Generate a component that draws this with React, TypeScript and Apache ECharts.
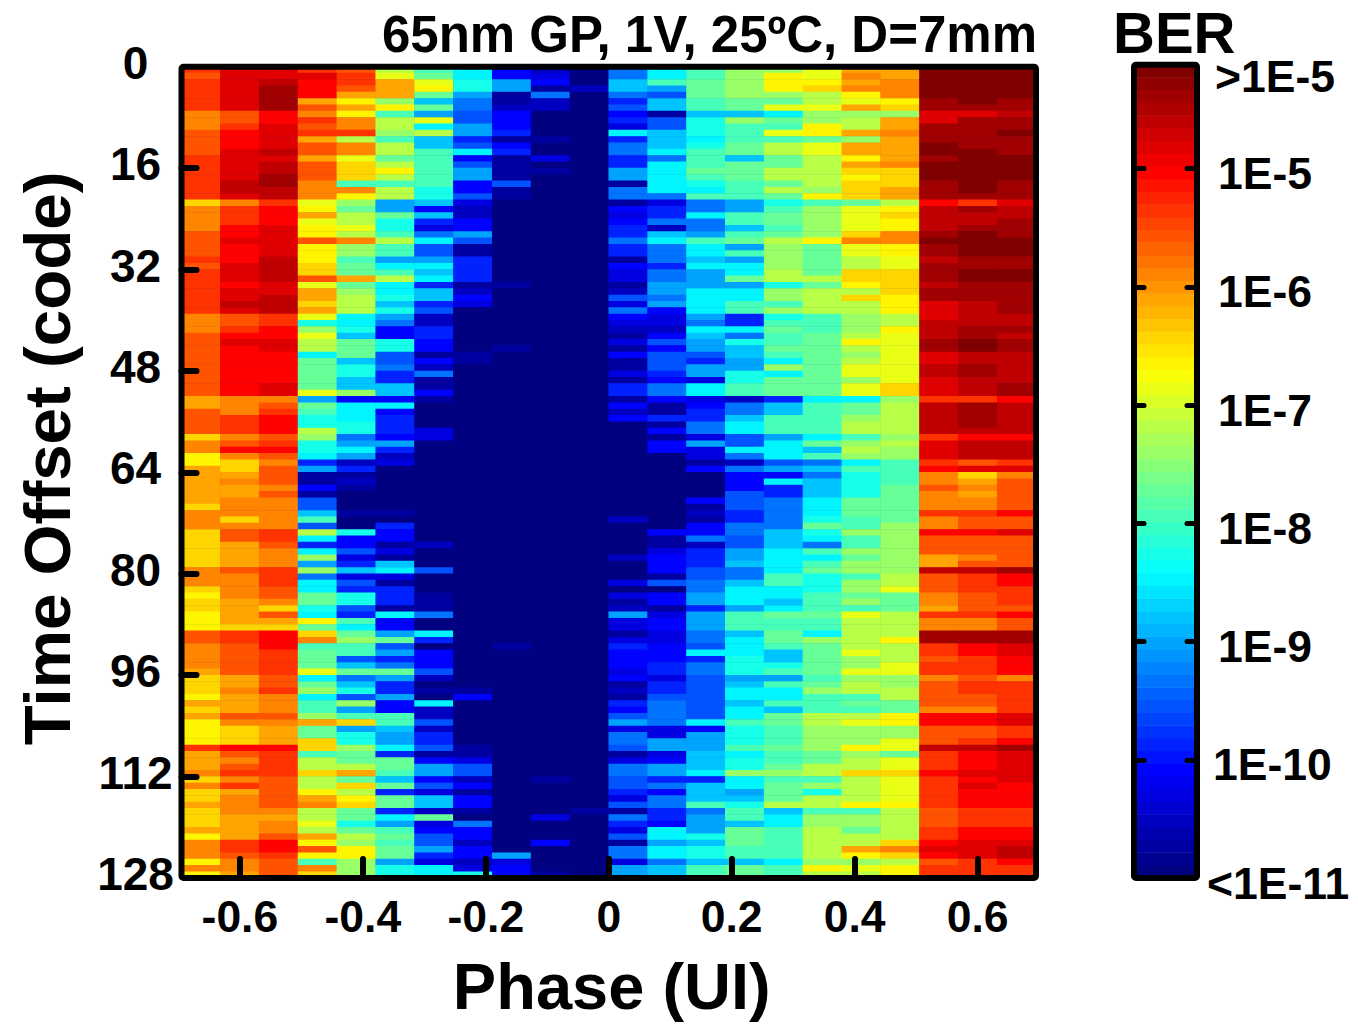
import React, { useEffect, useRef } from "react";
import * as echarts from "echarts";

// Each string is one phase column, top row (code 0) first; groups of 8 rows.
// One character = BER level (0-9a-r, low to high).
const col00 = "mlmmmmmk kkllllmm mmmmmikk kkllllml mmmmmmmk kkllllll lllljjll llikkhhj jjjjjikk kiiiiiik kkihiihh hllkkkkj iiihjijh hhhmjjjk ikiijiii jhkkkhkh";
const col01 = "oooooool lmnnnooo ooppokmm mnnonnno oonoopol lmnonnnn nnnnkkkm mmklnkii jkjjkkki klljjjjl kkkkjjjj immlllll jjkjjjlk iiinlklm kmjkkkjj jjmmlkkj";
const col02 = "oopqqqqn noooopop pqqppmnn nooooopp ppoopppm mnnoonnn nnooklmn nnlmnlkl llklkkkk kmmlkkkm mmllkilj innnmmmm llmkkklk jjjnmmmm lllllkjk klnnmlll";
const col03 = "monnnjlk mlmjlljl llkkkghj ghhlhhhi ilgjjijg begffadd dddg8dcb bfebba58 1141669c 6fa5ae8e 7aaddbah dikcdddg adeaccej ddiicffi ffhjkffg fjhlhcki";
const col04 = "lmmljhjh kkmfkkgi iickhedf fgfkeecd djdefffa ab9ddd9b b99e4aaa bb78a825 12100010 0b446359 365bb65c adecc69d 79b6e8ci 8bbeddfj difhiddb dfehheee";
const col05 = "fgjjjehc ffecffdf hfcff88d bbcfcc8a cfaab9b8 744bb667 55994a45 55485230 00000010 5441319a 315551a4 48d6857d 855844cc 988a5ddc 9d5dd5a8 cdcdd8bb";
const col06 = "cdghd9d8 gaf99ccc cccbb949 537a668a 9a599562 25544142 71141000 03300000 00000000 00020006 00011170 0a504446 2010a226 25561488 463992d3 466853aa";
const col07 = "aabb8776 68856a46 88446322 44861155 55124300 00000110 00000000 00000000 00000000 00000000 00000000 00000000 00140000 00011366 24144107 4424423b";
const col08 = "44881124 44514511 11611000 00000000 00100000 00001000 00000000 00000000 00000000 00000000 00000000 00010000 00000000 00000000 00000000 00008344";
const col09 = "23417220 00010030 10000000 00000000 00000000 00000000 00000000 00000000 00000000 00000000 00000000 00000000 00000000 00000000 10000030 00400001";
const col10 = "00020000 00000000 00000000 00000000 00000000 00000000 00000000 00000000 00000000 00000000 00000000 00000000 00000000 00000000 00000100 00000000";
const col11 = "77997564 53a57755 88177143 45575514 33126374 32131411 31551424 00000000 00000002 00000200 03031283 31354443 41215468 37761377 66536175 36177388";
const col12 = "aac86991 66999a7a aaaa7355 729a7775 77887843 32464666 54774115 14144000 00000000 04113444 16044134 43344455 35567777 33883488 57477554 aa8aa799";
const col13 = "ccdddcc9 bbbabccc dcbac77a 778caa9a 888aaaa8 7a988658 83aa3455 77383314 00004121 44725556 67788588 8776a577 6666666a 4888999a 5999c788 8b9bb9cc";
const col14 = "eeeeedd9 ecccdd9d ddccc88c c9cd8c8a ad8aacc5 5a7b9988 bbcc2779 aa66a727 44466655 77668897 79aaa8cc c9aaabbb 89aa9aac bbbcabbe aa89bcc9 dddcc9dd";
const col15 = "ehhhedga dcgcffdd ffdfdbcd dcdfeeee ffbeeceb cdccdcae addd599c cc8aaa68 4a557777 7999aaaa ccaa9adc cddc99bc 8caac9dd cccdccde cdddf9aa cccccacc";
const col16 = "gghiffge ehhdggff fffehcee eeehdddd dfdffffc ccdddddd ddddaccc ccad9c79 7999aaab dba7cacd bbbcccdc caeddddd cdecccff eeeeddff cebffcee fffffehf";
const col17 = "jkjkhgje ffjejjhj ihiiidgg ggikggff iihfiffe eefhfefg geggadde ffcefeac bbbbdddc ceccedee ceedecgf ffffgeeg effcdcfg eeeheffi ffffhcee dffjhegf";
const col18 = "jjkkkhie jjkjjjjk iiijjfhi hhkkhhgg iiiihhhf fhgggggg ggiiefff ffefeecc ccdddddd eeeeeeee ffgdddff ffhfffgg eeffddhh eeggdggi gggghfff ffikifhh";
const col19 = "rrrrrqqo oqqqrrqr rrqqqnpp ppqrqqpq qqpqqooo pppqqoop pooomppp ppmooomn kklkkkmk knllljjp lllkkjmk kqqmmlmm kllllknn lllpmmmn mmmmmlll mmnonlmm";
const col20 = "rrrrrrqo qqqqqrrr rrrrqmqp pqrrrrqq rrqqqppp pqqrrppq qpppmqqq qpnppplo ijkjkkml lnlllklp mmmlllmk kqqnnmmm lmmllknn llmpnnno nonnnmmm nnooommm";
const col21 = "rrrrrqqp qqrqqqrr rrqqqopp qqqrrrqq rrqqqqqp pqpqqppp ppqqnppp ppnpppmo klllllnl lolllllq nnmmmlnl lqqoonnn kmmmmmoo mmnqoooo onnnnmmm nnoppnmm";

const columns = [col00, col01, col02, col03, col04, col05, col06, col07, col08, col09, col10, col11, col12, col13, col14, col15, col16, col17, col18, col19, col20, col21];

// Position on the 64-step colour bar of each level character.
const levelToStep = [0, 2, 4, 6, 8, 10, 13, 15, 18, 20, 23, 25, 28, 30, 33, 35, 38, 40, 42, 45, 47, 50, 52, 55, 57, 59, 61, 63];

const colorbarSteps = [
  0, 1, 2, 3, 4, 5, 6, 7, 8, 9, 10, 11, 12, 13, 14, 15, 16, 17, 18, 19, 20, 21, 22, 23, 24, 25, 26, 27, 28, 29, 30, 31,
  32, 33, 34, 35, 36, 37, 38, 39, 40, 41, 42, 43, 44, 45, 46, 47, 48, 49, 50, 51, 52, 53, 54, 55, 56, 57, 58, 59, 60, 61, 62, 63,
];

const phaseTicks = [-0.6, -0.4, -0.2, 0, 0.2, 0.4, 0.6];
const codeTicks = [0, 16, 32, 48, 64, 80, 96, 112, 128];
const berTickExponents = [-10, -9, -8, -7, -6, -5];
const berLabelExponents = [-11, -10, -9, -8, -7, -6, -5, -4.18];
const berLabels = ["<1E-11", "1E-10", "1E-9", "1E-8", "1E-7", "1E-6", "1E-5", ">1E-5"];
const berLabelStyles = ["w", "t", "n", "n", "n", "n", "n", "g"];

const FONT = '"Liberation Sans", Arial, sans-serif';

function jet(step: number): string {
  const t = step / 63;
  const c = (v: number) => Math.round(255 * Math.max(0, Math.min(1, 1.5 - Math.abs(4 * t - v))));
  return `rgb(${c(3)},${c(2)},${c(1)})`;
}

function buildOption() {
  const cols = columns.map((c) => c.replace(/ /g, ""));
  const cells: number[][] = [];
  cols.forEach((c, x) => {
    for (let y = 0; y < c.length; y++) cells.push([x, y, levelToStep[parseInt(c[y], 36)]]);
  });
  const barCells = colorbarSteps.map((s, i) => [0, i, s]);

  const boldLabel = { fontFamily: FONT, fontWeight: "bold" as const, color: "#000" };
  const tickLine = { color: "#000", width: 6, cap: "round" as const };
  const barRich = (pad: number) => ({ ...boldLabel, fontSize: 44.5, padding: [0, 0, 0, pad] });

  return {
    animation: false,
    backgroundColor: "#fff",
    title: [
      {
        text: "65nm GP, 1V, 25ºC, D=7mm",
        right: 321,
        top: 9,
        padding: 0,
        textStyle: { ...boldLabel, fontSize: 51 },
      },
      {
        text: "BER",
        left: 1113,
        top: 10,
        padding: 0,
        textStyle: { ...boldLabel, fontSize: 58, lineHeight: 44 },
      },
    ],
    grid: [
      { show: true, left: 181.5, top: 66.7, width: 854.5, height: 811.3, backgroundColor: "#00008f", borderWidth: 0 },
      { left: 1134, top: 64.7, width: 63, height: 813.3 },
    ],
    visualMap: {
      show: false,
      type: "continuous",
      min: 0,
      max: 63,
      seriesIndex: [0, 1],
      inRange: { color: colorbarSteps.map(jet) },
    },
    xAxis: [
      { type: "category", gridIndex: 0, show: false, data: cols.map((_, i) => i) },
      {
        type: "value",
        gridIndex: 0,
        position: "bottom",
        z: 50,
        min: -0.695,
        max: 0.695,
        splitLine: { show: false },
        axisLine: { show: false },
        axisTick: { show: true, inside: true, length: 19, customValues: phaseTicks, lineStyle: tickLine },
        axisLabel: {
          ...boldLabel,
          fontSize: 44.5,
          margin: 16,
          customValues: phaseTicks,
          formatter: (v: number) => String(Math.round(v * 10) / 10),
        },
        name: "Phase (UI)",
        nameLocation: "middle",
        nameGap: 76,
        nameTextStyle: { ...boldLabel, fontSize: 65, padding: [0, 0, 0, 6] },
      },
      { type: "category", gridIndex: 1, show: false, data: [0] },
    ],
    yAxis: [
      { type: "category", gridIndex: 0, show: false, inverse: true, data: cols[0].split("").map((_, i) => i) },
      {
        type: "value",
        gridIndex: 0,
        position: "left",
        z: 50,
        inverse: true,
        min: 0,
        max: 128,
        splitLine: { show: false },
        axisLine: { show: false },
        axisTick: { show: true, inside: true, length: 15, customValues: codeTicks.slice(1, -1), lineStyle: tickLine },
        axisLabel: {
          ...boldLabel,
          fontSize: 46,
          margin: 46,
          align: "center",
          padding: [0, 0, 8, 0],
          customValues: codeTicks,
          rich: { c: { ...boldLabel, fontSize: 46 } },
          formatter: (v: number) => `{c|${v}}`,
        },
        name: "Time Offset (code)",
        nameLocation: "middle",
        nameGap: 101,
        nameTextStyle: { ...boldLabel, fontSize: 65.5, padding: [0, 0, 0, 28] },
      },
      { type: "category", gridIndex: 1, show: false, data: colorbarSteps },
      {
        type: "value",
        gridIndex: 1,
        position: "left",
        z: 50,
        min: -11,
        max: -4.12,
        splitLine: { show: false },
        axisLine: { show: false },
        axisLabel: { show: false },
        axisTick: { show: true, inside: true, length: 10, customValues: berTickExponents, lineStyle: { color: "#000", width: 5, cap: "round" } },
      },
      {
        type: "value",
        gridIndex: 1,
        position: "right",
        z: 50,
        min: -11,
        max: -4.12,
        splitLine: { show: false },
        axisLine: { show: false },
        axisTick: { show: true, inside: true, length: 10, customValues: berTickExponents, lineStyle: { color: "#000", width: 5, cap: "round" } },
        axisLabel: {
          ...boldLabel,
          fontSize: 44.5,
          margin: 10,
          padding: [10, 0, 0, 0],
          customValues: berLabelExponents,
          rich: { n: barRich(11), t: barRich(6), g: barRich(8), w: barRich(0) },
          formatter: (v: number) => {
            const i = berLabelExponents.findIndex((e) => Math.abs(e - v) < 1e-6);
            return i >= 0 ? `{${berLabelStyles[i]}|${berLabels[i]}}` : "";
          },
        },
      },
    ],
    series: [
      {
        type: "heatmap",
        xAxisIndex: 0,
        yAxisIndex: 0,
        data: cells,
        progressive: 0,
        itemStyle: { borderWidth: 0 },
        emphasis: { disabled: true },
      },
      {
        type: "heatmap",
        xAxisIndex: 2,
        yAxisIndex: 2,
        data: barCells,
        progressive: 0,
        itemStyle: { borderWidth: 0 },
        emphasis: { disabled: true },
      },
    ],
    graphic: [
      {
        type: "rect",
        z: 100,
        silent: true,
        shape: { x: 181.5, y: 66.7, width: 854.5, height: 811.3, r: 2 },
        style: { fill: "none", stroke: "#000", lineWidth: 6 },
      },
      {
        type: "rect",
        z: 100,
        silent: true,
        shape: { x: 1134, y: 64.7, width: 63, height: 813.3, r: 2 },
        style: { fill: "none", stroke: "#000", lineWidth: 6 },
      },
    ],
  };
}

export default function App() {
  const ref = useRef<HTMLDivElement>(null);
  useEffect(() => {
    const chart = echarts.init(ref.current!, undefined, { renderer: "svg" });
    chart.setOption(buildOption() as any);
    return () => chart.dispose();
  }, []);
  return <div ref={ref} style={{ position: "absolute", left: 0, top: 0, width: 1358, height: 1025 }} />;
}
